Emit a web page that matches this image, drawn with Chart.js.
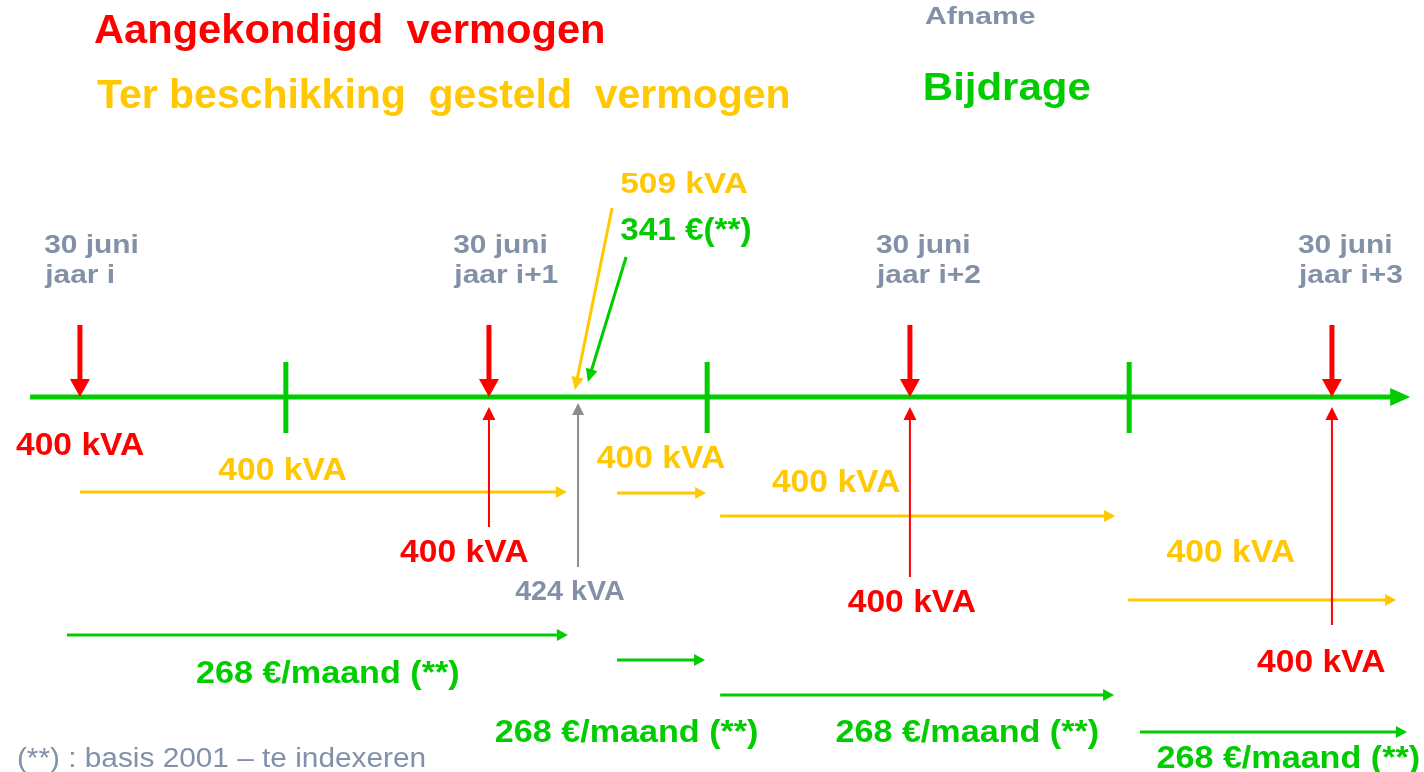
<!DOCTYPE html>
<html><head><meta charset="utf-8">
<script src="https://cdn.jsdelivr.net/npm/chart.js@4.4.1/dist/chart.umd.min.js"></script>
<style>html,body{margin:0;padding:0;background:#fff;overflow:hidden}canvas{display:block}</style>
</head><body>
<canvas id="c" width="1424" height="772"></canvas>
<script>
// ---------- DATA (x values = months after 30 June of year i) ----------
const dateLine1 = ['30 juni', '30 juni', '30 juni', '30 juni'];
const dateLine2 = ['jaar i', 'jaar i+1', 'jaar i+2', 'jaar i+3'];
const announceMonth = [0.34, 12.0, 24.0, 36.03];
const announcedKVA = [400, 400, 400, 400];
const periodTickMonth = [6.21, 18.22, 30.25];
const availStart = [0.34, 15.65, 18.59, 30.22];
const availEnd = [14.22, 18.19, 29.85, 37.86];
const availKVA = [400, 400, 400, 400];
const contribStart = [-0.03, 15.65, 18.59, 30.56];
const contribEnd = [14.25, 18.16, 29.82, 38.17];
const contribEUR = [268, 268, 268, 268];
const offtakeMonth = 14.54;
const offtakeKVA = 424;
const peakKVA = 509;
const peakEUR = 341;
const axisStart = -1.08, axisEnd = 38.26;

// ---------- LAYOUT (rows in layout units, label anchors in months) ----------
const L = {
  axisY: 397, announceTop: 325, tickTop: 362, tickBottom: 433,
  upTip: 407, upBottom: [null, 527, 577, 625],
  redLabelX: [0.34, 11.29, 24.05, 35.72], redLabelY: [455, 562, 612, 672],
  availY: [492, 493, 516, 600],
  availLabelX: [6.11, 16.90, 21.89, 33.14], availLabelY: [480, 468, 492, 562],
  contribY: [635, 660, 695, 732],
  contribLabelX: [7.40, 15.92, 25.63, 34.78], contribLabelY: [683, 742, 742, 768],
  dateLabelX: [-0.68, 10.98, 23.03, 35.06], dateY1: 253, dateY2: 283,
  offtakeTip: 403, offtakeBottom: 567, offtakeLabelX: 14.30, offtakeLabelY: 600,
  peakLabelX: 15.74, peakKVAY: 193, peakEURY: 240,
  peakKVAArrow: {x1: 15.51, y1: 208, x2: 14.45, y2: 390},
  peakEURArrow: {x1: 15.91, y1: 257, x2: 14.82, y2: 382}
};

const RED = '#ff0000', YEL = '#ffc800', GRN = '#00cc00', GRT = '#8290a8', GRA = '#8c8c8c';
const FONT = '"Liberation Sans", Arial, sans-serif';

function txt(ctx, s, x, base, size, opt) {
  opt = opt || {};
  ctx.save();
  ctx.font = (opt.normal ? '' : 'bold ') + size + 'px ' + FONT;
  const m = ctx.measureText(s);
  const w = m.actualBoundingBoxRight + m.actualBoundingBoxLeft;
  const sx = opt.w ? opt.w / w : (opt.sx || 1);
  const tw = w * sx;
  const left = opt.center ? x - tw / 2 : x;
  ctx.translate(left, base);
  ctx.scale(sx, 1);
  ctx.fillStyle = opt.color;
  ctx.textBaseline = 'alphabetic';
  ctx.textAlign = 'left';
  ctx.fillText(s, m.actualBoundingBoxLeft, 0);
  ctx.restore();
}

function arrow(ctx, x1, y1, x2, y2, color, lw, hl, hw) {
  const dx = x2 - x1, dy = y2 - y1, len = Math.hypot(dx, dy);
  const ux = dx / len, uy = dy / len;
  const bx = x2 - ux * hl, by = y2 - uy * hl;
  ctx.save();
  ctx.strokeStyle = color; ctx.lineWidth = lw; ctx.lineCap = 'butt';
  ctx.beginPath(); ctx.moveTo(x1, y1); ctx.lineTo(bx + ux, by + uy); ctx.stroke();
  ctx.fillStyle = color;
  ctx.beginPath(); ctx.moveTo(x2, y2);
  ctx.lineTo(bx - uy * hw, by + ux * hw);
  ctx.lineTo(bx + uy * hw, by - ux * hw);
  ctx.closePath(); ctx.fill();
  ctx.restore();
}
function line(ctx, x1, y1, x2, y2, color, lw) {
  ctx.save(); ctx.strokeStyle = color; ctx.lineWidth = lw;
  ctx.beginPath(); ctx.moveTo(x1, y1); ctx.lineTo(x2, y2); ctx.stroke(); ctx.restore();
}

const diagram = {
  id: 'diagram',
  beforeDraw(chart) {
    const ctx = chart.ctx;
    ctx.save(); ctx.fillStyle = '#fff'; ctx.fillRect(0, 0, chart.width, chart.height); ctx.restore();
  },
  afterDraw(chart) {
    const ctx = chart.ctx;
    const X = v => chart.scales.x.getPixelForValue(v);
    const Y = v => chart.scales.y.getPixelForValue(v);

    // header
    txt(ctx, 'Aangekondigd  vermogen', 95, 43, 40, {w: 508, color: RED});
    txt(ctx, 'Ter beschikking  gesteld  vermogen', 97, 108, 40, {w: 691, color: YEL});
    txt(ctx, 'Afname', 925, 24, 24, {w: 110, color: GRT});
    txt(ctx, 'Bijdrage', 925, 100, 39, {w: 165, color: GRN});

    // time axis
    arrow(ctx, X(axisStart), Y(L.axisY), X(axisEnd), Y(L.axisY), GRN, 5, 20, 9);
    periodTickMonth.forEach(m => line(ctx, X(m), Y(L.tickTop), X(m), Y(L.tickBottom), GRN, 5));

    // dates + announcements
    announceMonth.forEach((m, i) => {
      txt(ctx, dateLine1[i], X(L.dateLabelX[i]), Y(L.dateY1), 26, {sx: 1.15, color: GRT});
      txt(ctx, dateLine2[i], X(L.dateLabelX[i]), Y(L.dateY2), 26, {sx: 1.15, color: GRT});
      arrow(ctx, X(m), Y(L.announceTop), X(m), Y(L.axisY), RED, 5, 18, 10);
    });

    // available capacity (yellow)
    availStart.forEach((s, i) => {
      arrow(ctx, X(s), Y(L.availY[i]), X(availEnd[i]), Y(L.availY[i]), YEL, 3, 11, 6);
    });
    // contribution (green)
    contribStart.forEach((s, i) => {
      arrow(ctx, X(s), Y(L.contribY[i]), X(contribEnd[i]), Y(L.contribY[i]), GRN, 3, 11, 6);
    });

    // red up arrows (announced values)
    announceMonth.forEach((m, i) => {
      if (L.upBottom[i] != null)
        arrow(ctx, X(m), Y(L.upBottom[i]), X(m), Y(L.upTip), RED, 2, 13, 6.5);
      txt(ctx, announcedKVA[i] + ' kVA', X(L.redLabelX[i]), Y(L.redLabelY[i]), 31, {w: 128, center: true, color: RED});
    });

    // labels yellow & green
    availKVA.forEach((v, i) => txt(ctx, v + ' kVA', X(L.availLabelX[i]), Y(L.availLabelY[i]), 31, {w: 128, center: true, color: YEL}));
    contribEUR.forEach((v, i) => txt(ctx, v + ' €/maand (**)', X(L.contribLabelX[i]), Y(L.contribLabelY[i]), 31, {w: 261, center: true, color: GRN}));

    // offtake
    arrow(ctx, X(offtakeMonth), Y(L.offtakeBottom), X(offtakeMonth), Y(L.offtakeTip), GRA, 2, 12, 6);
    txt(ctx, offtakeKVA + ' kVA', X(L.offtakeLabelX), Y(L.offtakeLabelY), 27, {w: 109, center: true, color: GRT});

    // peak
    const a = L.peakKVAArrow, b = L.peakEURArrow;
    arrow(ctx, X(a.x1), Y(a.y1), X(a.x2), Y(a.y2), YEL, 3, 13, 6);
    arrow(ctx, X(b.x1), Y(b.y1), X(b.x2), Y(b.y2), GRN, 3, 13, 6);
    txt(ctx, peakKVA + ' kVA', X(L.peakLabelX), Y(L.peakKVAY), 30, {w: 127, color: YEL});
    txt(ctx, peakEUR + ' €(**)', X(L.peakLabelX), Y(L.peakEURY), 31, {w: 130, color: GRN});

    // footnote
    txt(ctx, '(**) : basis 2001 – te indexeren', 18, 767, 27, {w: 407, normal: true, color: GRT});
  }
};

new Chart(document.getElementById('c'), {
  type: 'scatter',
  data: { datasets: [{ data: [], showLine: false }] },
  options: {
    responsive: false, animation: false,
    layout: { padding: 0 },
    plugins: { legend: { display: false }, tooltip: { enabled: false } },
    scales: {
      x: { type: 'linear', min: -68 / 35.08, max: (1424 - 68) / 35.08, display: false },
      y: { type: 'linear', min: 0, max: 772, reverse: true, display: false }
    }
  },
  plugins: [diagram]
});
</script>
</body></html>
